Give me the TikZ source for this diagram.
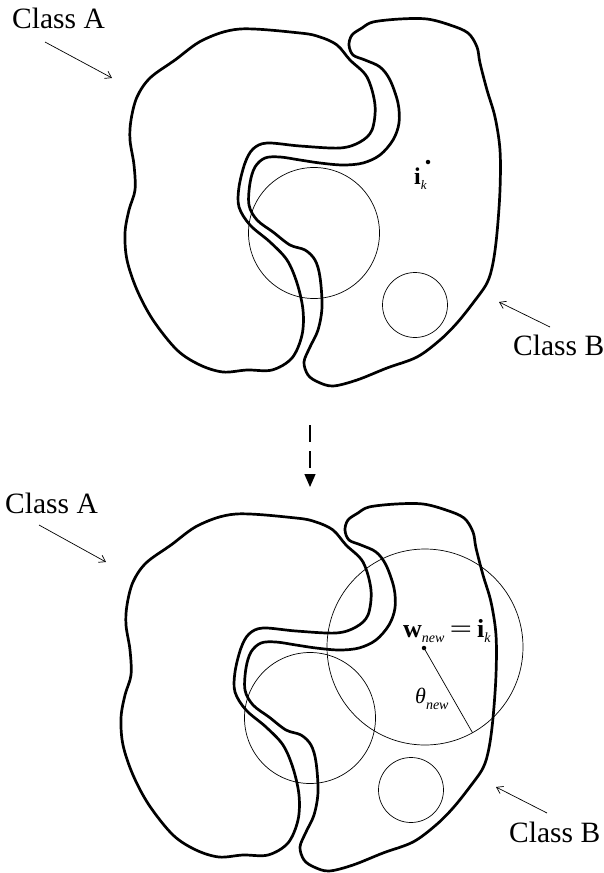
\documentclass[tikz,border=0pt]{standalone}
\usepackage{fontspec}
\usepackage{graphicx}
\setmainfont{Liberation Serif}
\usetikzlibrary{arrows.meta}

% outlines of the two class regions (pixel-like units, y downwards)
\newcommand\drawregions{%
  \draw[region] plot[smooth cycle, tension=0.55] coordinates {
    (240,29) (300,33) (320,37) (337,45) (350,60) (367,77) (375,105) (372,130)
    (360,142) (340,148) (300,146) (267,143) (253,149) (245,163) (239,187)
    (239,207) (250,225) (270,242) (287,260) (297,283) (303,310) (302,335)
    (292,358) (272,370) (247,370) (223,372) (200,365) (177,350) (153,320)
    (137,290) (127,260) (125,233) (129,210) (135,190) (134,165) (130,140)
    (131,120) (137,97) (150,78) (175,60) (203,40)};
  \draw[region] plot[smooth cycle, tension=0.55] coordinates {
    (373,22) (400,19) (427,19) (450,25) (468,33) (477,47) (480,63) (487,90)
    (495,117) (500,150) (500,190) (497,233) (493,263) (487,283) (473,303)
    (457,323) (440,340) (417,357) (387,368) (357,380) (333,386) (318,382)
    (308,375) (304,362) (310,347) (318,330) (322,307) (320,277) (315,260)
    (305,250) (290,245) (273,232) (257,220) (249,205) (250,183) (255,167)
    (265,158) (280,157) (300,160) (320,163) (343,165) (363,163) (380,155)
    (393,140) (399,123) (398,103) (390,80) (380,67) (365,60) (353,55)
    (349,45) (352,35) (362,28)};
}

\begin{document}
\begin{tikzpicture}[x=1pt, y=-1pt,
  region/.style={line width=2.7pt, line join=round},
  ball/.style={circle, draw, line width=0.7pt, inner sep=0pt, outer sep=0pt},
  pointer/.style={line width=0.7pt, -{Straight Barb[length=6pt, width=8pt]}},
  classlabel/.style={anchor=base west, inner sep=0pt, font=\fontsize{29.5}{30}\selectfont},
  datapoint/.style={circle, fill, inner sep=0pt, minimum size=4.5pt},
  every node/.append style={text=black}]
\useasboundingbox (0,0) rectangle (604,873);

% ---------- upper panel ----------
\drawregions
\node[ball, minimum size=131pt] (c1) at (314,233) {};
\node[ball, minimum size=65pt] (c2) at (415,305) {};
\node[datapoint] (pk) at (428,162) {};
\node[anchor=base west, inner sep=0pt] (ik) at (414,184)
  {{\fontsize{24}{24}\selectfont\bfseries i}\raisebox{-5pt}{\fontsize{13}{13}\selectfont\itshape k}};

\node[classlabel] (labA1) at (12,28) {Class A};
\coordinate (tailA1) at (45,42);
\coordinate (tipA1) at (112,78);
\draw[pointer] (tailA1) -- (tipA1);

\node[classlabel] (labB1) at (513,355) {Class B};
\coordinate (tailB1) at (550,327);
\coordinate (tipB1) at (499,302);
\draw[pointer] (tailB1) -- (tipB1);

% ---------- transition arrow ----------
\coordinate (dtop) at (310,425);
\coordinate (dbot) at (310,487);
\draw[line width=1.3pt, dash pattern=on 17pt off 9pt on 17pt off 40pt,
      -{Triangle[length=13pt, width=11pt]}] (dtop) -- (dbot);

% ---------- lower panel ----------
\begin{scope}[shift={(-4,485)}]
  \drawregions
  \node[ball, minimum size=131pt] (c3) at (314,233) {};
  \node[ball, minimum size=65pt] (c4) at (415,305) {};
\end{scope}

\node[ball, minimum size=196pt] (cn) at (425,647) {};
\node[datapoint] (wn) at (424,648) {};
\draw[line width=0.7pt] (wn.center) -- (cn.-61.6);

\node[anchor=base west, inner sep=0pt] (weq) at (403,637)
  {{\fontsize{26}{26}\selectfont\bfseries w}\raisebox{-5pt}{\fontsize{14}{14}\selectfont\itshape new}\hspace{5pt}\scalebox{1.6}[1]{\fontsize{25}{25}\selectfont =}\hspace{5pt}{\fontsize{26}{26}\selectfont\bfseries i}\raisebox{-5pt}{\fontsize{14}{14}\selectfont\itshape k}};

\node[anchor=base west, inner sep=0pt] (theta) at (415,703)
  {{\fontsize{22}{22}\selectfont\itshape θ}\raisebox{-6pt}{\fontsize{14}{14}\selectfont\itshape new}};

\node[classlabel] (labA2) at (5,513) {Class A};
\coordinate (tailA2) at (39,525);
\coordinate (tipA2) at (106,562);
\draw[pointer] (tailA2) -- (tipA2);

\node[classlabel] (labB2) at (509,842) {Class B};
\coordinate (tailB2) at (547,813);
\coordinate (tipB2) at (496,787);
\draw[pointer] (tailB2) -- (tipB2);
\end{tikzpicture}
\end{document}
